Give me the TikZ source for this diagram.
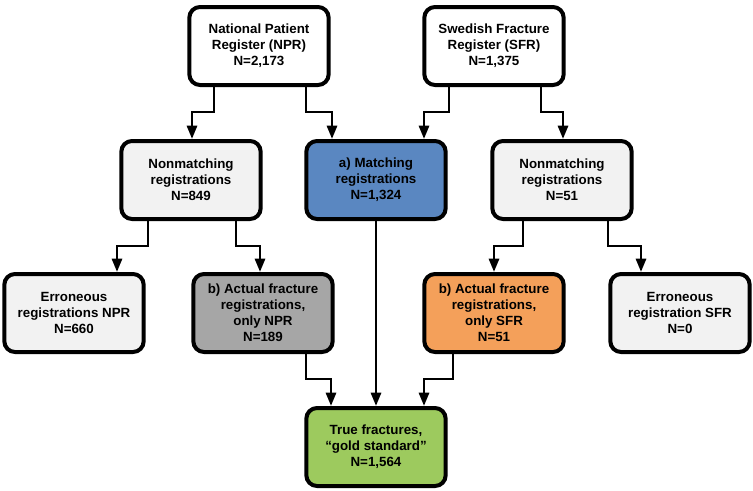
\documentclass[tikz,border=0pt]{standalone}
\usepackage{fontspec}
\setmainfont{Liberation Sans}
\usepackage{xcolor}
\usetikzlibrary{arrows.meta}
\definecolor{boxgray}{HTML}{F2F2F2}
\definecolor{matchblue}{HTML}{5A87C1}
\definecolor{onlygray}{HTML}{A6A6A6}
\definecolor{onlyorange}{HTML}{F4A05A}
\definecolor{goldgreen}{HTML}{9DCA5E}
\tikzset{
  box/.style={draw, line width=3pt, rounded corners=8pt, minimum width=104.5pt,
              minimum height=58.5pt, align=center, fill=boxgray, inner sep=2pt,
              font=\bfseries\fontsize{10}{12}\selectfont},
  sourcebox/.style={box, fill=white},
  matchbox/.style={box, fill=matchblue},
  nprbox/.style={box, fill=onlygray},
  sfrbox/.style={box, fill=onlyorange},
  goldbox/.style={box, fill=goldgreen},
  arrow/.style={-{Triangle[length=10pt,width=7.5pt]}, line width=2.1pt}
}
\begin{document}
\begin{tikzpicture}[x=0.75pt, y=-0.75pt]
  \useasboundingbox (0,0) rectangle (753,490);
  \node[sourcebox] (npr) at (259,46) {National Patient\\Register (NPR)\\N=2,173};
  \node[sourcebox] (sfr) at (494,46) {Swedish Fracture\\Register (SFR)\\N=1,375};
  \node[box] (nml) at (191,180) {Nonmatching\\registrations\\N=849};
  \node[matchbox] (match) at (376,180) {a) Matching\\registrations\\N=1,324};
  \node[box] (nmr) at (562,180) {Nonmatching\\registrations\\N=51};
  \node[box] (errn) at (74,313) {Erroneous\\registrations NPR\\N=660};
  \node[nprbox] (actn) at (263,313) {b) Actual fracture\\registrations,\\only NPR\\N=189};
  \node[sfrbox] (acts) at (494,313) {b) Actual fracture\\registrations,\\only SFR\\N=51};
  \node[box] (errs) at (680,313) {Erroneous\\registration SFR\\N=0};
  \node[goldbox] (gold) at (376,447) {True fractures,\\“gold standard”\\N=1,564};
  \foreach \u/\a/\v/\b in {npr/-45/nml/1, npr/47/match/-44, sfr/-45/match/48,
      sfr/47/nmr/1, nml/-43/errn/43, nml/45/actn/-3, nmr/-39/acts/0,
      nmr/46/errs/-39, actn/43/gold/-45, acts/-41/gold/48}
    \draw[arrow] ([xshift=\a*0.75pt]\u.south) -- ++(0,25) -| ([xshift=\b*0.75pt]\v.north);
  \draw[arrow] (match.south) -- (gold.north);
\end{tikzpicture}
\end{document}
